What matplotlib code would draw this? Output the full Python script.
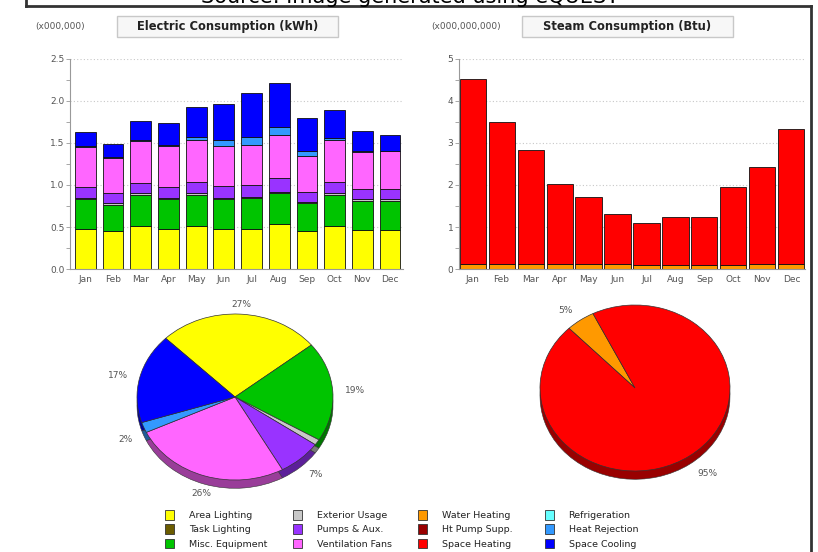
import numpy as np
import matplotlib.pyplot as plt
from matplotlib.patches import Patch, Rectangle
from matplotlib.lines import Line2D
from matplotlib.colors import to_rgb

months = ["Jan", "Feb", "Mar", "Apr", "May", "Jun",
          "Jul", "Aug", "Sep", "Oct", "Nov", "Dec"]

# electric consumption by end use (x000,000 kWh)
area_lighting = [0.48, 0.45, 0.51, 0.48, 0.51, 0.48, 0.48, 0.54, 0.45, 0.51, 0.46, 0.46]
misc_equipment = [0.35, 0.31, 0.37, 0.35, 0.37, 0.35, 0.36, 0.36, 0.33, 0.37, 0.35, 0.35]
exterior_usage = [0.02, 0.02, 0.02, 0.02, 0.02, 0.02, 0.02, 0.02, 0.02, 0.02, 0.02, 0.02]
pumps_aux = [0.13, 0.12, 0.12, 0.13, 0.14, 0.14, 0.14, 0.16, 0.12, 0.13, 0.12, 0.12]
ventilation_fans = [0.47, 0.42, 0.50, 0.49, 0.49, 0.47, 0.48, 0.52, 0.43, 0.50, 0.44, 0.45]
heat_rejection = [0.01, 0.01, 0.01, 0.01, 0.04, 0.07, 0.09, 0.09, 0.06, 0.03, 0.01, 0.01]
space_cooling = [0.17, 0.16, 0.23, 0.26, 0.36, 0.43, 0.52, 0.53, 0.39, 0.33, 0.24, 0.18]

# steam consumption by end use (x000,000,000 Btu)
water_heating = [0.13, 0.12, 0.13, 0.12, 0.12, 0.11, 0.10, 0.10, 0.09, 0.10, 0.11, 0.11]
space_heating = [4.39, 3.39, 2.70, 1.90, 1.59, 1.21, 1.00, 1.14, 1.15, 1.85, 2.32, 3.23]

legend_names = ["Area Lighting", "Task Lighting", "Misc. Equipment",
                "Exterior Usage", "Pumps & Aux.", "Ventilation Fans",
                "Water Heating", "Ht Pump Supp.", "Space Heating",
                "Refrigeration", "Heat Rejection", "Space Cooling"]
legend_colors = ["#FFFF00", "#6B5C00", "#00C400",
                 "#C8C8C8", "#9933FF", "#FF66FF",
                 "#FF9900", "#990000", "#FF0000",
                 "#66FFFF", "#3399FF", "#0000FF"]
col = dict(zip(legend_names, legend_colors))

W, H = 818, 552
def fx(x): return x / W
def fy(y): return 1 - y / H

fig = plt.figure(figsize=(W / 100, H / 100), dpi=100)
grey = "#555555"

# frame and caption
for xs, ys in [([26, 26], [-5, 6]), ([26, 811], [6, 6]), ([811, 811], [6, 560])]:
    fig.add_artist(Line2D([fx(v) for v in xs], [fy(v) for v in ys],
                          transform=fig.transFigure, color="#333333", lw=2))
fig.text(fx(410), fy(3), "Source: Image generated using eQUEST",
         ha="center", va="baseline", fontsize=15, color="black")

# title boxes
for unit, title, ux, bx0, bx1 in [("(x000,000)", "Electric Consumption (kWh)", 60, 117, 338),
                                  ("(x000,000,000)", "Steam Consumption (Btu)", 466, 522, 733)]:
    fig.text(fx(ux), fy(26.5), unit, ha="center", va="center", fontsize=6.5, color=grey)
    fig.add_artist(Rectangle((fx(bx0), fy(37)), fx(bx1 - bx0), (37 - 16) / H,
                             transform=fig.transFigure, facecolor="#F7F7F7",
                             edgecolor="#C8C8C8", lw=1))
    fig.text(fx((bx0 + bx1) / 2), fy(26.5), title, ha="center", va="center",
             fontsize=8.3, fontweight="bold", color="#222222")


def style_bar_axes(ax, top, step, fmt):
    ax.set_ylim(0, top)
    ax.set_yticks(np.arange(0, top + 0.001, step))
    ax.set_yticks(np.arange(step / 2, top, step), minor=True)
    ax.set_yticklabels([fmt % v for v in np.arange(0, top + 0.001, step)])
    ax.set_xticks(range(12))
    ax.set_xticklabels(months)
    for s in ["top", "right"]:
        ax.spines[s].set_visible(False)
    for s in ["left", "bottom"]:
        ax.spines[s].set_color("#999999")
    ax.tick_params(axis="y", which="both", length=3, width=0.6, color="#999999",
                   labelsize=6.5, labelcolor=grey, pad=1)
    ax.tick_params(axis="x", length=0, labelsize=6.5, labelcolor=grey, pad=4)
    ax.yaxis.grid(True, linestyle=(0, (1, 2)), color="#C8C8C8", lw=0.8)
    ax.set_axisbelow(True)


x = np.arange(12)

# electric monthly stacks
ax1 = fig.add_axes([fx(70), fy(269), fx(403 - 70), (269 - 59) / H])
electric = [("Area Lighting", area_lighting), ("Misc. Equipment", misc_equipment),
            ("Exterior Usage", exterior_usage), ("Pumps & Aux.", pumps_aux),
            ("Ventilation Fans", ventilation_fans), ("Heat Rejection", heat_rejection),
            ("Space Cooling", space_cooling)]
bottom = np.zeros(12)
for name, vals in electric:
    ax1.bar(x, vals, 0.75, bottom=bottom, color=col[name], edgecolor="#111111", lw=0.6)
    bottom += np.array(vals)
ax1.set_xlim(-0.555, 11.47)
style_bar_axes(ax1, 2.5, 0.5, "%.1f")

# steam monthly stacks
ax2 = fig.add_axes([fx(459), fy(269), fx(805 - 459), (269 - 59) / H])
steam = [("Water Heating", water_heating), ("Space Heating", space_heating)]
bottom = np.zeros(12)
for name, vals in steam:
    ax2.bar(x, vals, 0.9, bottom=bottom, color=col[name], edgecolor="#111111", lw=0.6)
    bottom += np.array(vals)
ax2.set_xlim(-0.47, 11.47)
style_bar_axes(ax2, 5, 1, "%d")


def darker(c, f=0.6):
    r, g, b = to_rgb(c)
    return (r * f, g * f, b * f)


def draw_pie(rect, series, start, labeldist):
    ax = fig.add_axes(rect)
    names = [n for n, _ in series]
    totals = np.array([sum(v) for _, v in series])
    share = 100 * totals / totals.sum()
    labels = ["%d%%" % round(p) if p >= 1.5 else "" for p in share]
    colors = [col[n] for n in names]
    # side wall of the tilted pie
    ax.pie(totals, colors=[darker(c) for c in colors], startangle=start,
           counterclock=False, center=(0, -0.1),
           wedgeprops=dict(edgecolor="#333333", linewidth=0.4))
    _, texts = ax.pie(totals, colors=colors, labels=labels, startangle=start,
                      counterclock=False, labeldistance=labeldist,
                      wedgeprops=dict(edgecolor="#333333", linewidth=0.5),
                      textprops=dict(fontsize=6.5, color=grey))
    for t in texts:
        tx, ty = t.get_position()
        if abs(tx) < 0.35:
            t.set_horizontalalignment("center")
        if ty < 0:
            t.set_y(ty - 0.1)
    ax.set_aspect("auto")
    ax.set_xlim(-1.5, 1.5)
    ax.set_ylim(-1.5, 1.5)
    return ax


draw_pie([fx(235 - 147), fy(397 + 124.5), fx(294), 249 / H], electric, 135, 1.12)
draw_pie([fx(635 - 142.5), fy(388 + 124.5), fx(285), 249 / H], steam, 134, 1.14)

# legend, four columns of three
col_x = [165, 293, 418, 545]
for i, cx in enumerate(col_x):
    handles = [Patch(facecolor=c, edgecolor="#333333", lw=0.6)
               for c in legend_colors[3 * i:3 * i + 3]]
    fig.legend(handles, legend_names[3 * i:3 * i + 3], loc="upper left",
               bbox_to_anchor=(fx(cx), fy(510)), frameon=False, fontsize=6.8,
               handlelength=1.0, handleheight=1.2, handletextpad=1.5,
               labelspacing=0.45, borderpad=0, borderaxespad=0, labelcolor="#222222")

fig.savefig("out.png", dpi=100)
